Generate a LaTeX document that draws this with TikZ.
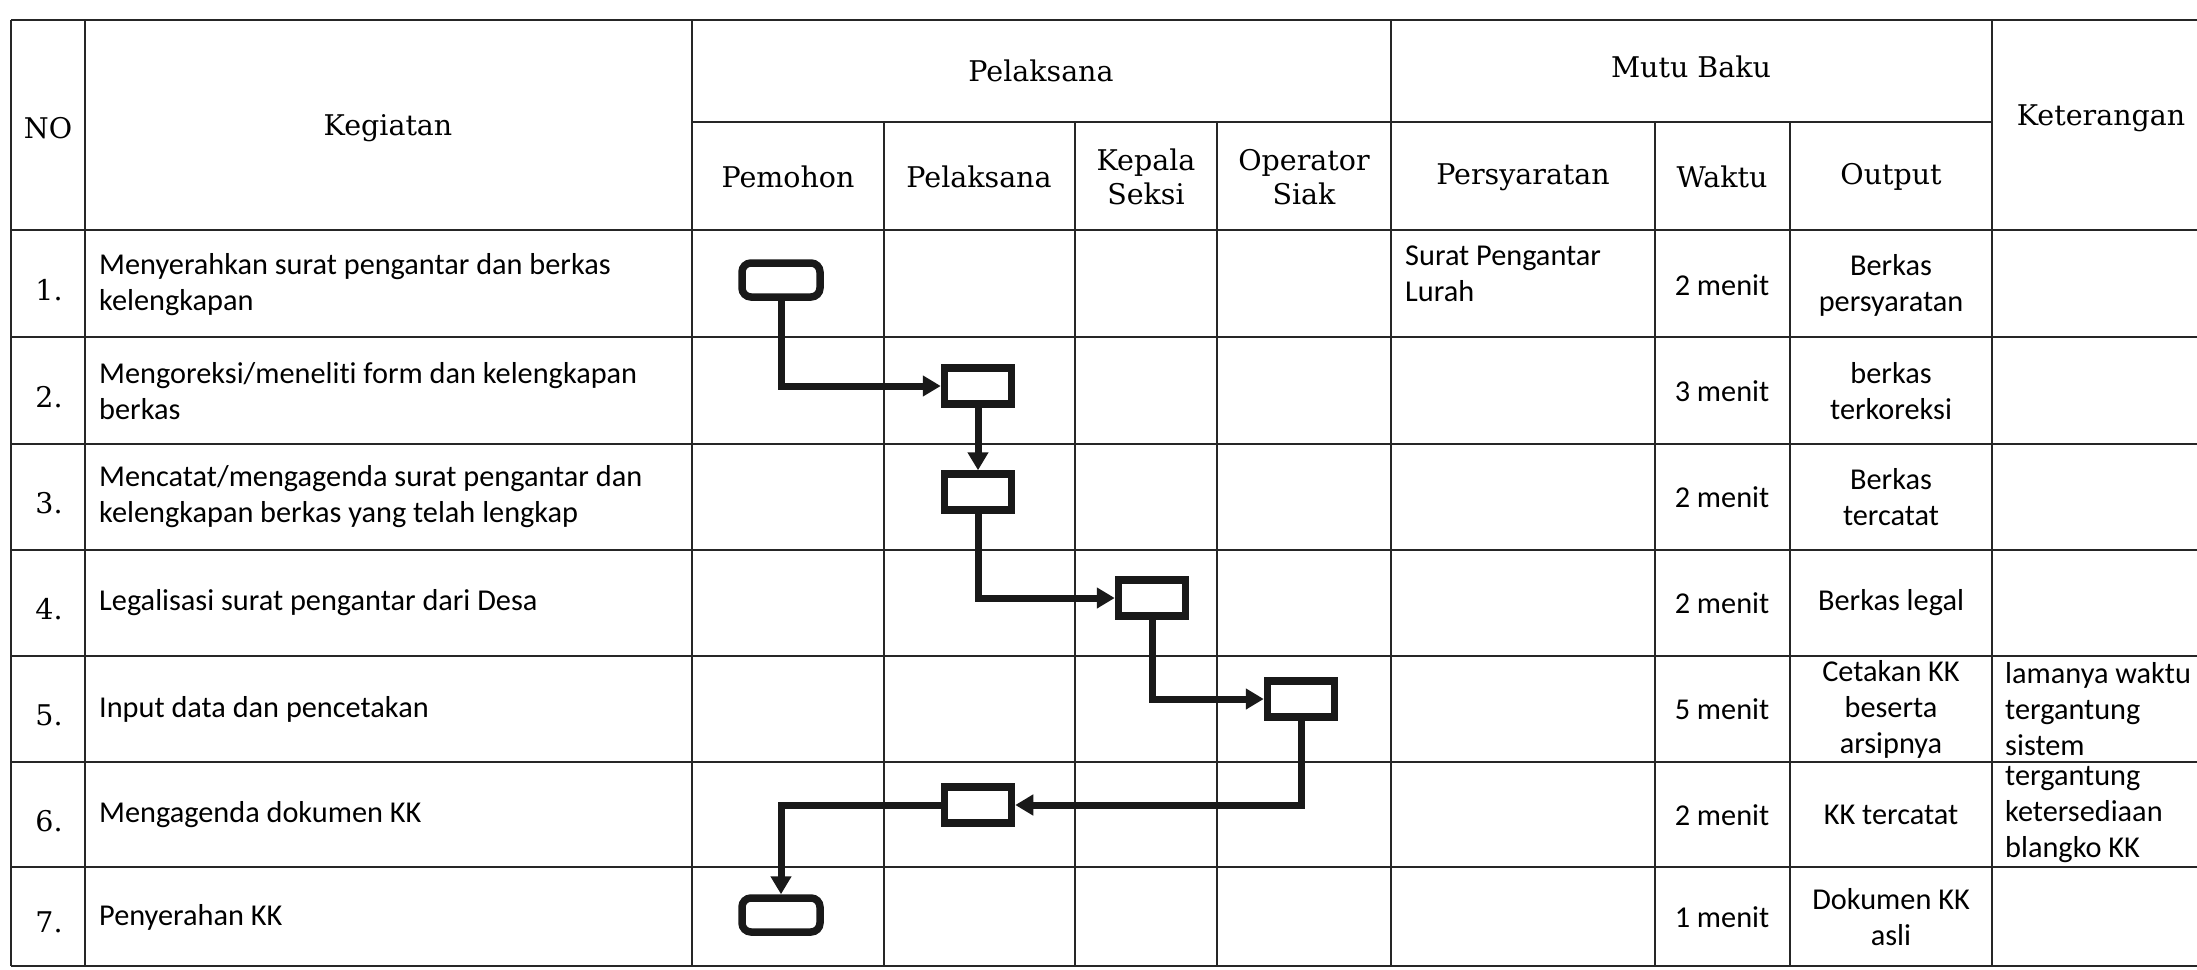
\documentclass[tikz,border=0pt]{standalone}
\usepackage{fontspec}
\setmainfont{Carlito}[Ligatures=NoCommon]
\newfontfamily\hdfont{DejaVu Serif}
\usetikzlibrary{arrows.meta}
\begin{document}
\begin{tikzpicture}[x=1pt,y=-1pt,
  grid/.style={line width=2.4pt, black!85},
  proc/.style={draw=black!90, line width=7.5pt, minimum width=67pt, minimum height=36pt, inner sep=0pt},
  term/.style={proc, rounded corners=9pt, minimum width=78pt, minimum height=34pt},
  conn/.style={line width=7pt, draw=black!90, -{Triangle[length=18pt,width=20pt]}},
  hd/.style={font=\hdfont\fontsize{28.5}{34}\selectfont, align=center, inner sep=0pt},
  tx/.style={font=\fontsize{30.3}{36}\selectfont, align=left, inner sep=0pt},
  tc/.style={font=\fontsize{30.3}{36}\selectfont, align=center, inner sep=0pt}]
\useasboundingbox (0,0) rectangle (2197,969);
\fill[white] (0,0) rectangle (2197,969);
% horizontal rules
\draw[grid] (11,20) -- (2197,20);
\draw[grid] (692,122) -- (1992,122);
\foreach \y in {230,337,444,550,656,762,867,966}
  \draw[grid] (11,\y) -- (2197,\y);
% vertical rules
\foreach \x in {11,85,692,1391,1992}
  \draw[grid] (\x,20) -- (\x,966);
\foreach \x in {884,1075,1217,1655,1790}
  \draw[grid] (\x,122) -- (\x,966);
% header
\node[hd] (hNO) at (48,128) {NO};
\node[hd] (hKeg) at (388,128) {Kegiatan};
\node[hd] (hPel) at (1041,71) {Pelaksana};
\node[hd] (hPem) at (788,177) {Pemohon};
\node[hd] (hPel2) at (979,177) {Pelaksana};
\node[hd] (hKep) at (1146,177) {Kepala\\Seksi};
\node[hd] (hOp) at (1304,177) {Operator\\Siak};
\node[hd] (hMutu) at (1691,67) {Mutu Baku};
\node[hd] (hPers) at (1523,177) {Persyaratan};
\node[hd] (hWak) at (1722,177) {Waktu};
\node[hd] (hOut) at (1891,177) {Output};
\node[hd] (hKet) at (2101,118) {Keterangan};
% numbers
\node[hd] (n1) at (49,290) {1.};
\node[hd] (n2) at (49,397) {2.};
\node[hd] (n3) at (49,503) {3.};
\node[hd] (n4) at (49,609) {4.};
\node[hd] (n5) at (49,715) {5.};
\node[hd] (n6) at (49,821) {6.};
\node[hd] (n7) at (49,922) {7.};
% kegiatan
\node[tx, anchor=west] (k1) at (99,285) {Menyerahkan surat pengantar dan berkas\\kelengkapan};
\node[tx, anchor=west] (k2) at (99,391) {Mengoreksi/meneliti form dan kelengkapan\\berkas};
\node[tx, anchor=west] (k3) at (99,497) {Mencatat/mengagenda surat pengantar dan\\kelengkapan berkas yang telah lengkap};
\node[tx, anchor=west] (k4) at (99,603) {Legalisasi surat pengantar dari Desa};
\node[tx, anchor=west] (k5) at (99,709) {Input data dan pencetakan};
\node[tx, anchor=west] (k6) at (99,815) {Mengagenda dokumen KK};
\node[tx, anchor=west] (k7) at (99,917) {Penyerahan KK};
% persyaratan
\node[tx, anchor=north west] (p1) at (1405,246) {Surat Pengantar\\Lurah};
% waktu
\node[tc] (w1) at (1722,285) {2 menit};
\node[tc] (w2) at (1722,391) {3 menit};
\node[tc] (w3) at (1722,497) {2 menit};
\node[tc] (w4) at (1722,603) {2 menit};
\node[tc] (w5) at (1722,709) {5 menit};
\node[tc] (w6) at (1722,815) {2 menit};
\node[tc] (w7) at (1722,917) {1 menit};
% output
\node[tc] (o1) at (1891,285) {Berkas\\persyaratan};
\node[tc] (o2) at (1891,391) {berkas\\terkoreksi};
\node[tc] (o3) at (1891,497) {Berkas\\tercatat};
\node[tc] (o4) at (1891,603) {Berkas legal};
\node[tc] (o5) at (1891,709) {Cetakan KK\\beserta\\arsipnya};
\node[tc] (o6) at (1891,815) {KK tercatat};
\node[tc] (o7) at (1891,917) {Dokumen KK\\asli};
% keterangan
\node[tx, anchor=west] (ket5) at (2005,709) {lamanya waktu\\tergantung\\sistem};
\node[tx, anchor=west] (ket6) at (2005,815) {tergantung\\ketersediaan\\blangko KK};
% flow shapes
\node[term] (b1) at (781,280) {};
\node[proc] (b2) at (978,386) {};
\node[proc] (b3) at (978,492) {};
\node[proc] (b4) at (1152,598) {};
\node[proc] (b5) at (1301,699) {};
\node[proc] (b6) at (978,805) {};
\node[term] (b7) at (781,915) {};
% connectors
\draw[conn] (b1.south) |- (b2.west);
\draw[conn] (b2.south) -- (b3.north);
\draw[conn] (b3.south) |- (b4.west);
\draw[conn] (b4.south) |- (b5.west);
\draw[conn] (b5.south) |- (b6.east);
\draw[conn] (b6.west) -| (b7.north);
\end{tikzpicture}
\end{document}
